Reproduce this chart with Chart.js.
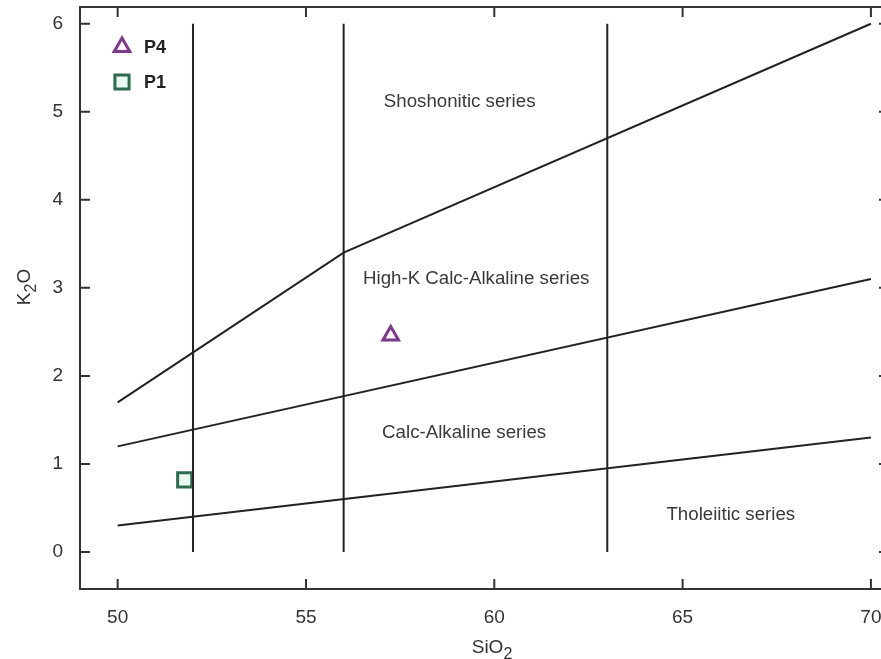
<!DOCTYPE html>
<html>
<head>
<meta charset="utf-8">
<script src="https://cdn.jsdelivr.net/npm/chart.js@4/dist/chart.umd.min.js"></script>
<style>
  html, body { margin: 0; padding: 0; background: #fff; overflow: hidden; }
  canvas { display: block; }
</style>
</head>
<body>
<canvas id="k2oChart" width="900" height="659"></canvas>
<script>
// samples (SiO2, K2O)
const p4X = [57.25]
const p4Y = [2.46]
const p1X = [51.78]
const p1Y = [0.82]

// series boundaries
const tholBoundX = [50, 70]
const tholBoundY = [0.3, 1.3]
const calcBoundX = [50, 70]
const calcBoundY = [1.2, 3.1]
const shoshBoundX = [50, 56, 70]
const shoshBoundY = [1.7, 3.4, 6.0]
const verticalX = [52, 56, 63]
const verticalY = [0, 6]

const xTicks = [50, 55, 60, 65, 70]
const yTicks = [0, 1, 2, 3, 4, 5, 6]

// field names and where they sit (data units)
const fieldNames = ['Shoshonitic series', 'High-K Calc-Alkaline series', 'Calc-Alkaline series', 'Tholeiitic series']
const fieldX = [59.08, 59.52, 59.2, 66.28]
const fieldY = [5.11, 3.1, 1.35, 0.42]

const toPts = (xs, ys) => xs.map((x, i) => ({ x: x, y: ys[i] }))

const lineStyle = {
  showLine: true,
  pointRadius: 0,
  borderColor: '#222',
  borderWidth: 2,
  fill: false,
}

const datasets = [
  Object.assign({ label: 'thol', data: toPts(tholBoundX, tholBoundY) }, lineStyle),
  Object.assign({ label: 'calc', data: toPts(calcBoundX, calcBoundY) }, lineStyle),
  Object.assign({ label: 'shosh', data: toPts(shoshBoundX, shoshBoundY) }, lineStyle),
]
verticalX.forEach(v => {
  datasets.push(Object.assign({ label: 'v' + v, data: toPts([v, v], verticalY) }, lineStyle))
})
datasets.push({
  label: 'P4',
  data: toPts(p4X, p4Y),
  pointStyle: 'triangle',
  pointRadius: 9,
  borderColor: '#7b3b88',
  backgroundColor: '#fdf3fe',
  borderWidth: 3,
  isSample: true,
})
datasets.push({
  label: 'P1',
  data: toPts(p1X, p1Y),
  pointStyle: 'rect',
  pointRadius: 10,
  borderColor: '#2d6b4c',
  backgroundColor: '#e9f8f0',
  borderWidth: 3,
  isSample: true,
})

const FONT = '"Liberation Sans", Arial, sans-serif'

// frame, inward ticks, field names, legend, axis titles
const decorPlugin = {
  id: 'decor',
  afterDraw(chart) {
    const ctx = chart.ctx
    const a = chart.chartArea
    const xs = chart.scales.x
    const ys = chart.scales.y
    ctx.save()
    ctx.strokeStyle = '#333'
    ctx.lineWidth = 2
    ctx.strokeRect(a.left, a.top, a.right - a.left, a.bottom - a.top)
    ctx.beginPath()
    xTicks.forEach(v => {
      const px = xs.getPixelForValue(v)
      ctx.moveTo(px, a.bottom); ctx.lineTo(px, a.bottom - 10)
      ctx.moveTo(px, a.top); ctx.lineTo(px, a.top + 10)
    })
    yTicks.forEach(v => {
      const py = ys.getPixelForValue(v)
      ctx.moveTo(a.left, py); ctx.lineTo(a.left + 10, py)
      ctx.moveTo(a.right, py); ctx.lineTo(a.right - 10, py)
    })
    ctx.stroke()

    ctx.fillStyle = '#3a3a3a'
    ctx.font = '18.7px ' + FONT
    ctx.textAlign = 'center'
    ctx.textBaseline = 'middle'
    fieldNames.forEach((t, i) => {
      ctx.fillText(t, xs.getPixelForValue(fieldX[i]), ys.getPixelForValue(fieldY[i]))
    })

    // legend
    const samples = chart.data.datasets.filter(d => d.isSample)
    samples.forEach((d, i) => {
      const ly = a.top + 40 + i * 35
      ctx.strokeStyle = d.borderColor
      ctx.fillStyle = d.backgroundColor
      ctx.lineWidth = d.borderWidth
      Chart.helpers.drawPoint(ctx, { pointStyle: d.pointStyle, radius: d.pointRadius, borderWidth: d.borderWidth }, a.left + 42, ly)
      ctx.fillStyle = '#222'
      ctx.font = 'bold 18px ' + FONT
      ctx.textAlign = 'left'
      ctx.fillText(d.label, a.left + 64, ly + 1)
    })

    // axis titles with subscripts
    ctx.fillStyle = '#333'
    ctx.textAlign = 'left'
    ctx.textBaseline = 'alphabetic'
    const drawSub = (main, sub, tail, x, y) => {
      ctx.font = '19px ' + FONT
      const w1 = ctx.measureText(main).width
      ctx.font = '16px ' + FONT
      const w2 = ctx.measureText(sub).width
      ctx.font = '19px ' + FONT
      const w3 = ctx.measureText(tail).width
      let cx = x - (w1 + w2 + w3) / 2
      ctx.fillText(main, cx, y); cx += w1
      ctx.font = '16px ' + FONT
      ctx.fillText(sub, cx, y + 6); cx += w2
      ctx.font = '19px ' + FONT
      ctx.fillText(tail, cx, y)
    }
    drawSub('SiO', '2', '', 492, 653)
    ctx.translate(30, 287)
    ctx.rotate(-Math.PI / 2)
    drawSub('K', '2', 'O', 0, 0)
    ctx.restore()
  }
}

const chartConfig = {
  type: 'scatter',
  data: { datasets: datasets },
  options: {
    responsive: false,
    animation: false,
    layout: { autoPadding: false, padding: { top: 7, right: 11, left: 0, bottom: 0 } },
    plugins: {
      legend: { display: false },
      tooltip: { enabled: false },
    },
    scales: {
      x: {
        type: 'linear',
        min: 49,
        max: 70.48,
        afterBuildTicks: s => { s.ticks = xTicks.map(v => ({ value: v })) },
        afterFit: s => { s.height = 70; s.paddingLeft = 0; s.paddingRight = 0 },
        grid: { display: false, drawTicks: false },
        border: { display: false },
        ticks: { color: '#333', font: { family: FONT, size: 19 }, padding: 17 },
      },
      y: {
        type: 'linear',
        min: -0.42,
        max: 6.19,
        afterBuildTicks: s => { s.ticks = yTicks.map(v => ({ value: v })) },
        afterFit: s => { s.width = 80; s.paddingTop = 0; s.paddingBottom = 0 },
        grid: { display: false, drawTicks: false },
        border: { display: false },
        ticks: { color: '#333', font: { family: FONT, size: 19 }, padding: 17 },
      },
    },
  },
  plugins: [decorPlugin],
}

const ctxK2o = document.getElementById('k2oChart')
window.k2oChart = new Chart(ctxK2o, chartConfig)
</script>
</body>
</html>
